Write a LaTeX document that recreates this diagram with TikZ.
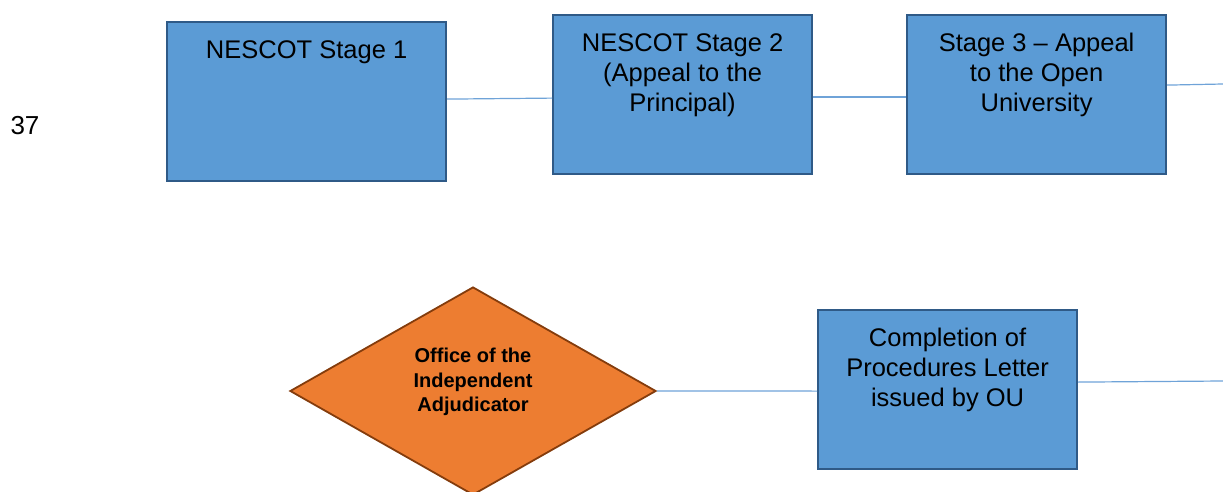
\documentclass[tikz,border=0pt]{standalone}
\usepackage{fontspec}
\setmainfont{Liberation Sans}
\usetikzlibrary{shapes.geometric}
\definecolor{boxfill}{HTML}{5B9BD5}
\definecolor{boxline}{HTML}{2F5A87}
\definecolor{dfill}{HTML}{ED7D31}
\definecolor{dline}{HTML}{843C0C}
\definecolor{conn}{HTML}{6FA3D8}
\tikzset{
  stagebox/.style={draw=boxline, line width=2.2pt, fill=boxfill, minimum width=278pt, minimum height=158pt, inner sep=0pt, anchor=north west},
  boxtext/.style={anchor=north, inner sep=0pt, align=center, font=\fontsize{25.5}{30}\selectfont},
  conline/.style={draw=conn, line width=1.2pt},
  oia/.style={diamond, draw=dline, line width=1.8pt, fill=dfill, minimum width=366pt, minimum height=208pt, aspect=1.76, inner sep=0pt}
}
\begin{document}
\begin{tikzpicture}[x=1pt,y=-1pt]
\useasboundingbox (0,0) rectangle (1223,492);
\clip (0,0) rectangle (1223,492);
\node[inner sep=0pt, font=\fontsize{26}{30}\selectfont] (num) at (25,126) {37};
\node[stagebox, minimum width=279pt, minimum height=159pt] (s1) at (166,21) {};
\node[stagebox, minimum width=259pt, minimum height=159pt] (s2) at (552,14) {};
\node[stagebox, minimum width=259pt, minimum height=159pt] (s3) at (906,14) {};
\node[stagebox, minimum width=259pt, minimum height=159pt] (s4) at (817,309) {};
\node[oia] (d) at (473,391) {};
\node[boxtext] (t1) at ([yshift=-19pt]s1.north) {NESCOT Stage 1};
\node[boxtext] (t2) at ([yshift=-19pt]s2.north) {NESCOT Stage 2\\(Appeal to the\\Principal)};
\node[boxtext] (t3) at ([yshift=-19pt]s3.north) {Stage 3 -- Appeal\\to the Open\\University};
\node[boxtext] (t4) at ([yshift=-19pt]s4.north) {Completion of\\Procedures Letter\\issued by OU};
\node[inner sep=0pt, align=center, font=\bfseries\fontsize{20}{24.5}\selectfont] (td) at ([yshift=9pt]d.center) {Office of the\\Independent\\Adjudicator};
\coordinate (e1) at (1223,84);
\coordinate (e2) at (1223,381);
\draw[conline] ([yshift=2.5pt]s1.east) -- ([yshift=-3.5pt]s2.west);
\draw[conline] ([yshift=-2.5pt]s2.east) -- ([yshift=-2.5pt]s3.west);
\draw[conline] ([yshift=9.5pt]s3.east) -- (e1);
\draw[conline] (d.east) -- ([yshift=-1.5pt]s4.west);
\draw[conline] ([yshift=7.5pt]s4.east) -- (e2);
\end{tikzpicture}
\end{document}
